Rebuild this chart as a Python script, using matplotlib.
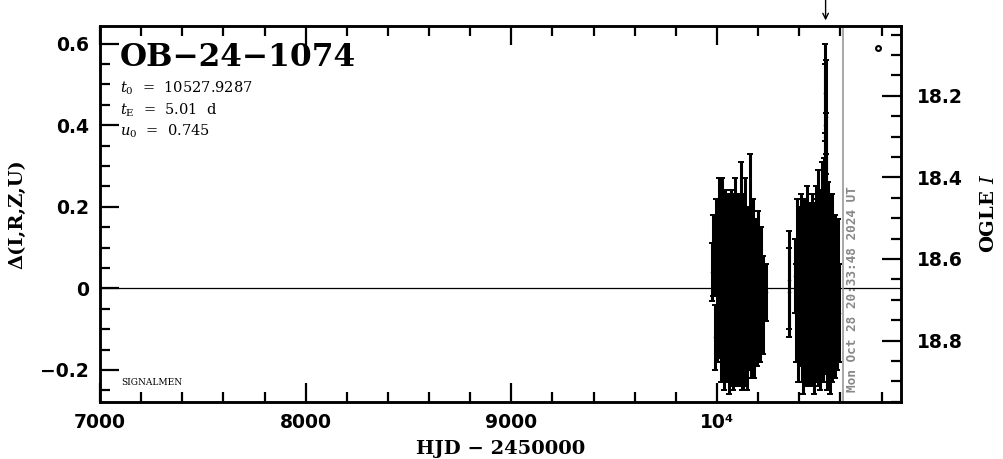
import matplotlib
matplotlib.use('Agg')
import matplotlib.pyplot as plt
from matplotlib.ticker import MultipleLocator, FixedLocator, FixedFormatter

plt.rcParams['mathtext.fontset'] = 'dejavuserif'

# event parameters
event_name = 'OB\u221224\u22121074'
t0 = 10527.9287
tE = 5.01
u0 = 0.745
t_now = 10612.36
now_label = 'Mon Oct 28 20:33:48 2024 UT'
I_base = 18.672
moon_hjd = 10782
moon_val = 0.59

# season 1 (HJD - 2450000, delta mag, error)
t1 = [9975, 9981, 9988, 9994, 10002, 10008, 10013, 10017, 10021, 10025,
      10029, 10033, 10036, 10040, 10043, 10047, 10050, 10054, 10057, 10061,
      10064, 10068, 10071, 10075, 10078, 10082, 10085, 10089, 10092, 10096,
      10099, 10103, 10106, 10110, 10113, 10117, 10120, 10124, 10127, 10131,
      10134, 10138, 10141, 10145, 10148, 10152, 10156, 10160, 10164, 10168,
      10172, 10177, 10182, 10188, 10194, 10201, 10208, 10216, 10225, 10236]
d1 = [0.04, 0.08, -0.12, 0.10, -0.05, 0.15, -0.02, 0.06, -0.10, 0.12,
      -0.06, 0.03, -0.13, 0.09, -0.04, 0.01, -0.09, 0.07, -0.11, 0.02,
      -0.03, 0.10, -0.08, 0.04, -0.12, 0.06, -0.02, 0.11, -0.07, 0.00,
      -0.10, 0.08, -0.05, 0.05, -0.09, 0.13, -0.06, 0.03, -0.11, 0.07,
      -0.03, 0.10, -0.08, 0.02, -0.12, 0.06, -0.04, 0.14, -0.07, 0.05,
      -0.02, 0.08, -0.10, 0.03, -0.06, 0.07, -0.08, 0.04, -0.04, -0.01]
e1 = [0.07, 0.10, 0.08, 0.12, 0.13, 0.12, 0.15, 0.14, 0.13, 0.15,
      0.14, 0.16, 0.12, 0.15, 0.17, 0.15, 0.14, 0.16, 0.15, 0.17,
      0.16, 0.14, 0.16, 0.15, 0.13, 0.17, 0.15, 0.16, 0.17, 0.16,
      0.14, 0.15, 0.17, 0.16, 0.15, 0.18, 0.19, 0.17, 0.14, 0.16,
      0.15, 0.17, 0.16, 0.15, 0.13, 0.14, 0.16, 0.19, 0.15, 0.17,
      0.13, 0.14, 0.12, 0.14, 0.13, 0.12, 0.10, 0.11, 0.12, 0.07]

# season 2
t2 = [10348, 10352, 10378, 10384, 10390, 10395, 10400, 10404, 10408, 10412,
      10416, 10420, 10424, 10427, 10431, 10434, 10438, 10441, 10445, 10448,
      10451, 10455, 10458, 10461, 10465, 10468, 10471, 10474, 10478, 10481,
      10484, 10487, 10490, 10493, 10496, 10499, 10502, 10505, 10508, 10511,
      10514, 10517, 10520, 10522, 10524, 10526, 10527, 10528, 10529, 10531,
      10533, 10536, 10539, 10542, 10545, 10548, 10551, 10554, 10557, 10560,
      10564, 10568, 10572, 10576, 10580, 10584, 10588, 10593]
d2 = [-0.01, 0.02, 0.03, -0.06, 0.08, -0.10, 0.05, -0.03, 0.10, -0.08,
      0.01, -0.12, 0.07, -0.05, 0.04, -0.09, 0.09, -0.02, -0.11, 0.06,
      -0.06, 0.02, -0.10, 0.08, -0.04, 0.05, -0.13, 0.03, -0.07, 0.10,
      -0.03, 0.06, -0.09, 0.12, -0.05, 0.04, -0.11, 0.08, -0.02, 0.14,
      -0.08, 0.05, 0.18, -0.04, 0.25, 0.40, 0.48, 0.33, 0.42, 0.21,
      0.07, -0.09, 0.11, -0.03, 0.05, -0.12, 0.03, -0.06, 0.09, -0.10,
      0.02, -0.07, 0.06, -0.09, 0.01, -0.05, 0.04, -0.06]
e2 = [0.11, 0.12, 0.09, 0.12, 0.14, 0.13, 0.15, 0.16, 0.13, 0.15,
      0.17, 0.14, 0.15, 0.16, 0.14, 0.15, 0.16, 0.17, 0.13, 0.15,
      0.16, 0.17, 0.14, 0.15, 0.17, 0.16, 0.13, 0.15, 0.16, 0.15,
      0.17, 0.16, 0.15, 0.17, 0.16, 0.15, 0.14, 0.16, 0.17, 0.17,
      0.15, 0.16, 0.14, 0.17, 0.13, 0.15, 0.12, 0.10, 0.14, 0.12,
      0.16, 0.16, 0.15, 0.17, 0.18, 0.14, 0.16, 0.15, 0.14, 0.13,
      0.15, 0.14, 0.12, 0.13, 0.14, 0.15, 0.13, 0.12]

serif = 'DejaVu Serif'
fig = plt.figure(figsize=(10.04, 4.59), dpi=100)
ax = fig.add_axes([0.0996, 0.1248, 0.7975, 0.8185])

for t, d, e in [(t1, d1, e1), (t2, d2, e2)]:
    ax.errorbar(t, d, yerr=e, fmt='.', color='black', ms=3,
                elinewidth=2.2, capsize=2.5, capthick=1.4)

ax.axhline(0, color='black', lw=0.9, zorder=1)
ax.axvline(t_now, color='#999999', lw=1.2)
ax.annotate(now_label, xy=(t_now, -0.255), xytext=(2, 0), textcoords='offset points',
            rotation=90, ha='left', va='bottom', color='#888888',
            fontsize=9.2, family='DejaVu Sans Mono', weight='bold')
ax.plot([moon_hjd], [moon_val], marker='o', ms=3.5, mfc='white', mec='black', mew=1.5)
ax.annotate('', xy=(t0, 1.015), xycoords=('data', 'axes fraction'),
            xytext=(t0, 1.075), textcoords=('data', 'axes fraction'),
            arrowprops=dict(arrowstyle='->', color='black', lw=1, shrinkA=0, shrinkB=0),
            annotation_clip=False)

ax.set_xlim(7000, 10893)
ax.set_ylim(-0.278, 0.643)

ax.text(0.025, 0.958, event_name, transform=ax.transAxes, fontsize=22.5,
        family=serif, weight='bold', va='top')
ax.text(0.025, 0.858, r'$t_0$  =  %.4f' % t0, transform=ax.transAxes,
        fontsize=10.5, family=serif, va='top')
ax.text(0.025, 0.800, r'$t_{\rm E}$  =  %.2f  d' % tE, transform=ax.transAxes,
        fontsize=10.5, family=serif, va='top')
ax.text(0.025, 0.742, r'$u_0$  =  %.3f' % u0, transform=ax.transAxes,
        fontsize=10.5, family=serif, va='top')
ax.text(0.027, 0.045, 'SIGNALMEN', transform=ax.transAxes, fontsize=6.5, family=serif)

ax.xaxis.set_major_locator(FixedLocator([7000, 8000, 9000, 10000]))
ax.xaxis.set_major_formatter(FixedFormatter(['7000', '8000', '9000', '10\u2074']))
ax.xaxis.set_minor_locator(MultipleLocator(200))
ax.yaxis.set_major_locator(MultipleLocator(0.2))
ax.yaxis.set_minor_locator(MultipleLocator(0.05))
ax.yaxis.set_major_formatter(plt.FuncFormatter(
    lambda v, p: '0' if abs(v) < 1e-9 else ('%.1f' % v).replace('-', '\u2212')))

ax.tick_params(which='both', direction='in', top=True, right=False, width=1.6,
               labelsize=13.5, pad=8)
ax.tick_params(which='major', length=14)
ax.tick_params(which='minor', length=7)
for lab in ax.get_xticklabels() + ax.get_yticklabels():
    lab.set_fontweight('bold')
for sp in ax.spines.values():
    sp.set_linewidth(1.8)

ax.set_xlabel('HJD \u2212 2450000', fontsize=14, family=serif, weight='bold', labelpad=6)
ax.set_ylabel('\u0394(I,R,Z,U)', fontsize=14, family=serif, weight='bold', labelpad=10)

ax2 = ax.twinx()
ax2.set_ylim(I_base + 0.278, I_base - 0.643)
ax2.yaxis.set_major_locator(MultipleLocator(0.2))
ax2.yaxis.set_minor_locator(MultipleLocator(0.05))
ax2.tick_params(which='both', direction='in', width=1.6, labelsize=13.5, pad=12)
ax2.tick_params(which='major', length=14)
ax2.tick_params(which='minor', length=7)
for lab in ax2.get_yticklabels():
    lab.set_fontweight('bold')
ax2.set_ylabel(r'OGLE $I$', fontsize=14, family=serif, weight='bold', labelpad=12)
for sp in ax2.spines.values():
    sp.set_linewidth(1.8)

fig.savefig('out.png', dpi=100)
